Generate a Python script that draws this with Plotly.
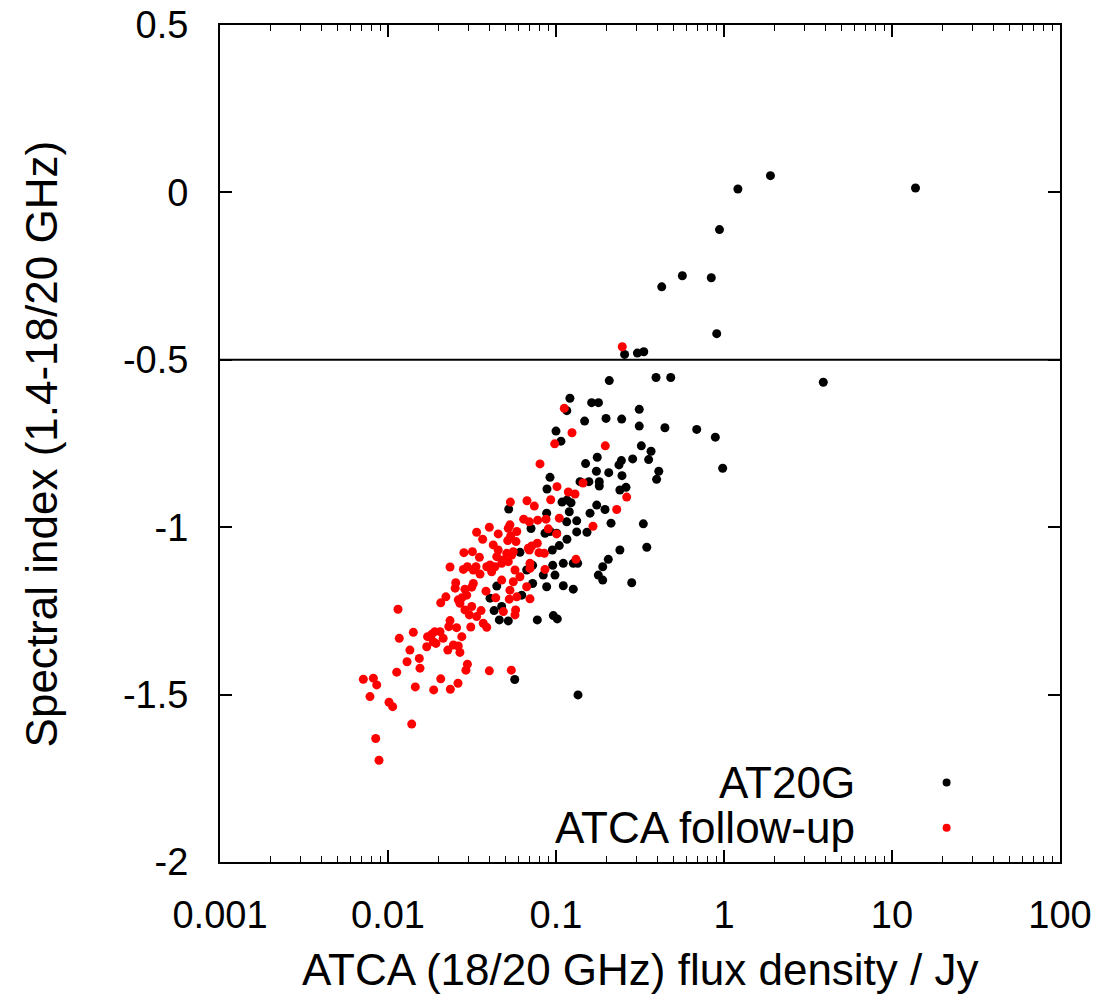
import plotly.graph_objects as go

# ---- AT20G (black) : flux density (Jy), spectral index ----
at20g_flux = [1.89, 1.21, 13.8, 0.94, 0.426, 0.565, 0.84, 0.905, 0.256, 0.305,
              0.333, 0.2076, 0.394, 0.482, 3.90, 0.313, 0.1985, 0.246, 0.313, 0.445,
              0.688, 0.888, 0.322, 0.368, 0.286, 0.356, 0.245, 0.237, 0.982, 0.206,
              0.409, 0.247, 0.397, 0.261, 0.240, 0.121, 0.116, 0.163, 0.179, 0.148,
              0.100, 0.107, 0.150, 0.176, 0.174, 0.0921, 0.0884, 0.139, 0.157, 0.181,
              0.181, 0.1086, 0.1163, 0.1229, 0.0523, 0.1747, 0.1957, 0.1594, 0.120, 0.0880,
              0.1158, 0.1328, 0.2126, 0.331, 0.1529, 0.1328, 0.1162, 0.0860, 0.0710, 0.347,
              0.240, 0.1046, 0.0951, 0.0610, 0.1346, 0.1267, 0.1105, 0.2048, 0.1897, 0.0956,
              0.0840, 0.0669, 0.0726, 0.0726, 0.0880, 0.1105, 0.1267, 0.1786, 0.1897, 0.2823,
              0.0444, 0.0625, 0.0405, 0.0428, 0.0475, 0.0460, 0.0520, 0.0774, 0.0964, 0.1018,
              0.0568, 0.1352, 0.1009, 0.0986, 0.0921]
at20g_index = [0.05, 0.01, 0.013, -0.111, -0.282, -0.249, -0.255, -0.422, -0.484, -0.480,
               -0.476, -0.562, -0.553, -0.553, -0.567, -0.648, -0.675, -0.677, -0.698, -0.703,
               -0.708, -0.731, -0.757, -0.773, -0.796, -0.798, -0.801, -0.814, -0.824, -0.837,
               -0.833, -0.846, -0.857, -0.881, -0.889, -0.615, -0.652, -0.628, -0.628, -0.683,
               -0.713, -0.743, -0.810, -0.791, -0.833, -0.851, -0.886, -0.864, -0.864, -0.864,
               -0.877, -0.925, -0.919, -0.927, -0.946, -0.934, -0.947, -0.958, -0.954, -0.958,
               -0.984, -0.981, -0.988, -0.990, -1.015, -1.014, -1.036, -1.018, -1.004, -1.060,
               -1.068, -1.055, -1.068, -1.075, -1.108, -1.108, -1.108, -1.096, -1.118, -1.114,
               -1.143, -1.128, -1.114, -1.168, -1.178, -1.175, -1.185, -1.143, -1.158, -1.166,
               -1.176, -1.203, -1.212, -1.249, -1.237, -1.277, -1.280, -1.277, -1.264, -1.274,
               -1.455, -1.501, -1.018, -1.143, -1.013]

# ---- ATCA follow-up (red) ----
followup_flux = [0.248, 0.1120, 0.1245, 0.0982, 0.1965, 0.0803, 0.1014, 0.1184, 0.1298, 0.1448,
                 0.2635, 0.0535, 0.0672, 0.0743, 0.0930, 0.2298, 0.0778, 0.0642, 0.0872, 0.1046,
                 0.1660, 0.1009, 0.0900, 0.0532, 0.0520, 0.0584, 0.0453, 0.0401, 0.0337, 0.0366,
                 0.0852, 0.0792, 0.0694, 0.0774, 0.0578, 0.0557, 0.0509, 0.0453, 0.0423, 0.0444,
                 0.0318, 0.0283, 0.0350, 0.0387, 0.0486, 0.0520, 0.0860, 0.1315, 0.0700, 0.0570,
                 0.0610, 0.0234, 0.0297, 0.0281, 0.0334, 0.0353, 0.0414, 0.0669, 0.0557, 0.0532,
                 0.0475, 0.0527, 0.0584, 0.0700, 0.0383, 0.0322, 0.0253, 0.0251, 0.0287, 0.0221,
                 0.0206, 0.0438, 0.0275, 0.0268, 0.0315, 0.0305, 0.0358, 0.0486, 0.0575, 0.0570,
                 0.01147, 0.0234, 0.0230, 0.0256, 0.0311, 0.0369, 0.0387, 0.01415, 0.01167, 0.0172,
                 0.0182, 0.0204, 0.0193, 0.0170, 0.0213, 0.0275, 0.0245, 0.0262, 0.0227, 0.0268,
                 0.0135, 0.01536, 0.01298, 0.0155, 0.01127, 0.0297, 0.0291, 0.0401, 0.0542, 0.00713,
                 0.00818, 0.00857, 0.00781, 0.01454, 0.0206, 0.0187, 0.0235, 0.0261, 0.01014, 0.01066,
                 0.01384, 0.00845, 0.00884, 0.0694, 0.0537, 0.0516, 0.0684, 0.0717, 0.0322, 0.0405,
                 0.0433, 0.0475, 0.0545, 0.0700, 0.0294, 0.0315, 0.0262, 0.0337, 0.0287, 0.0186,
                 0.0190]
followup_index = [-0.461, -0.645, -0.718, -0.751, -0.757, -0.811, -0.879, -0.895, -0.901, -0.868,
                  -0.910, -0.925, -0.921, -0.937, -0.918, -0.947, -0.979, -0.976, -0.976, -0.973,
                  -0.997, -1.020, -1.005, -0.993, -1.003, -1.013, -1.020, -1.000, -1.015, -1.036,
                  -1.078, -1.076, -1.068, -1.048, -1.043, -1.073, -1.078, -1.068, -1.053, -1.088,
                  -1.073, -1.076, -1.090, -1.118, -1.098, -1.103, -1.126, -1.096, -1.108, -1.128,
                  -1.148, -1.119, -1.118, -1.126, -1.118, -1.140, -1.133, -1.178, -1.163, -1.188,
                  -1.158, -1.215, -1.208, -1.214, -1.191, -1.168, -1.166, -1.182, -1.185, -1.208,
                  -1.226, -1.211, -1.211, -1.227, -1.237, -1.262, -1.249, -1.252, -1.247, -1.262,
                  -1.245, -1.279, -1.297, -1.300, -1.298, -1.287, -1.299, -1.314, -1.332, -1.327,
                  -1.320, -1.312, -1.347, -1.357, -1.332, -1.327, -1.352, -1.355, -1.367, -1.374,
                  -1.367, -1.392, -1.402, -1.421, -1.433, -1.409, -1.427, -1.429, -1.427, -1.454,
                  -1.451, -1.471, -1.506, -1.477, -1.453, -1.486, -1.484, -1.466, -1.523, -1.536,
                  -1.588, -1.631, -1.696, -0.984, -1.026, -1.040, -1.063, -1.056, -1.128, -1.113,
                  -1.118, -1.108, -1.083, -1.123, -1.203, -1.179, -1.217, -1.267, -1.247, -1.342,
                  -1.312]

x_tickvals = [0.001, 0.01, 0.1, 1, 10, 100]
x_ticktext = ["0.001", "0.01", "0.1", "1", "10", "100"]
y_tickvals = [0.5, 0, -0.5, -1, -1.5, -2]
y_ticktext = ["0.5", "0", "-0.5", "-1", "-1.5", "-2"]
divider_index = -0.5
series_names = ["AT20G", "ATCA follow-up"]

FONT = "Liberation Sans, Arial, Helvetica, sans-serif"

fig = go.Figure()
fig.add_trace(go.Scatter(x=at20g_flux, y=at20g_index, mode="markers", name=series_names[0],
                         marker=dict(color="#000000", size=9, line=dict(width=0)), showlegend=False))
fig.add_trace(go.Scatter(x=followup_flux, y=followup_index, mode="markers", name=series_names[1],
                         marker=dict(color="#ff0000", size=9, line=dict(width=0)), showlegend=False))

# horizontal divider at spectral index -0.5
fig.add_shape(type="line", xref="paper", x0=0, x1=1, yref="y", y0=divider_index, y1=divider_index,
              line=dict(color="black", width=2))

# legend (text right-aligned, marker to the right)
legend_rows = [(series_names[0], "#000000", 0.0950), (series_names[1], "#ff0000", 0.0410)]
for name, col, yp in legend_rows:
    fig.add_annotation(text=name, xref="paper", yref="paper", x=0.758, y=yp,
                       xanchor="right", yanchor="middle", showarrow=False,
                       font=dict(family=FONT, size=44, color="black"))
    fig.add_shape(type="circle", xref="paper", yref="paper", xsizemode="pixel", ysizemode="pixel",
                  xanchor=0.865, yanchor=yp, x0=-4, x1=4, y0=-4, y1=4,
                  fillcolor=col, line=dict(width=0))

# axis titles
fig.add_annotation(text="ATCA (18/20 GHz) flux density / Jy", xref="paper", yref="paper",
                   x=0.5, y=-0.129, xanchor="center", yanchor="middle", showarrow=False,
                   font=dict(family=FONT, size=44, color="black"))
fig.add_annotation(text="Spectral index (1.4-18/20 GHz)", xref="paper", yref="paper",
                   x=-0.212, y=0.5, xanchor="center", yanchor="middle", textangle=-90,
                   showarrow=False, font=dict(family=FONT, size=44, color="black"))

fig.update_xaxes(type="log", range=[-3, 2], tickvals=x_tickvals, ticktext=x_ticktext,
                 ticks="inside", ticklen=12, tickwidth=1.5, tickcolor="black",
                 showline=True, linecolor="black", linewidth=2, mirror="allticks",
                 showgrid=False, zeroline=False, ticklabelstandoff=18,
                 tickfont=dict(family=FONT, size=38, color="black"),
                 minor=dict(ticks="inside", ticklen=6, tickwidth=1.2, tickcolor="black",
                            dtick="D1", showgrid=False))
fig.update_yaxes(range=[-2, 0.5], tickvals=y_tickvals, ticktext=y_ticktext,
                 ticks="inside", ticklen=12, tickwidth=1.5, tickcolor="black",
                 showline=True, linecolor="black", linewidth=2, mirror="allticks",
                 showgrid=False, zeroline=False, ticklabelstandoff=22,
                 tickfont=dict(family=FONT, size=38, color="black"))

fig.update_layout(width=1107, height=1000, autosize=False,
                  margin=dict(l=220, r=47, t=25, b=138, autoexpand=False),
                  plot_bgcolor="white", paper_bgcolor="white", showlegend=False)

fig.write_html("out.html")
